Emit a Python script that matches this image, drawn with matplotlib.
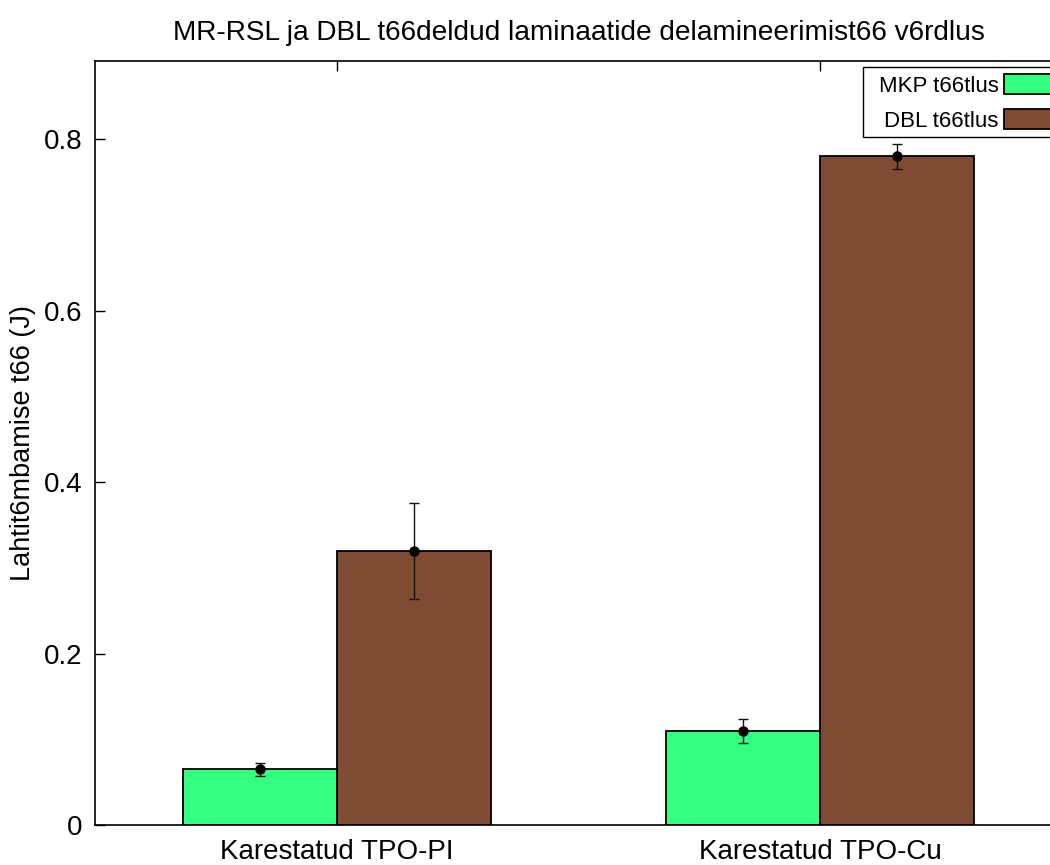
import matplotlib
matplotlib.use("Agg")
import matplotlib.pyplot as plt
from matplotlib.patches import Rectangle
import numpy as np

plt.rcParams['font.family'] = ['Liberation Sans', 'DejaVu Sans']

categories = ["Karestatud TPO-PI", "Karestatud TPO-Cu"]
series_names = ["MKP t66tlus", "DBL t66tlus"]
mkp_values = [0.065, 0.110]
mkp_errors = [0.0075, 0.014]
dbl_values = [0.320, 0.780]
dbl_errors = [0.056, 0.0145]
colors = ["#33FF80", "#7F4C33"]

W, H = 1050, 865
fig = plt.figure(figsize=(W/100, H/100), dpi=100)
ax = fig.add_axes([95/W, 40/H, 967/W, 764/H])

x = np.arange(1, len(categories) + 1)
w = 0.318
for vals, errs, off, col, name in [(mkp_values, mkp_errors, -w/2, colors[0], series_names[0]),
                                    (dbl_values, dbl_errors, w/2, colors[1], series_names[1])]:
    ax.bar(x + off, vals, width=w, color=col, edgecolor='black', linewidth=1.3, label=name, zorder=2)
    ax.errorbar(x + off, vals, yerr=errs, fmt='o', color='black', ecolor='#111111',
                markersize=6.5, capsize=3.8, elinewidth=1.0, capthick=1.0, zorder=3)

ax.set_xlim(0.5, 2.5)
ax.set_ylim(0, 0.891)
ax.set_xticks(x)
ax.set_xticklabels(categories)
ax.set_yticks([0, 0.2, 0.4, 0.6, 0.8])
ax.set_yticklabels(["0", "0.2", "0.4", "0.6", "0.8"])
ax.tick_params(direction='in', length=7, width=1, top=True, right=True, labelsize=20)
ax.tick_params(axis='x', pad=10)
ax.tick_params(axis='y', pad=9)
for s in ax.spines.values():
    s.set_linewidth(1.2)

ax.set_ylabel("Lahtit6mbamise t66 (J)", fontsize=19.5, labelpad=6)
ax.set_title("MR-RSL ja DBL t66deldud laminaatide delamineerimist66 v6rdlus", fontsize=20.2, pad=15)

leg = ax.legend(loc='upper right', bbox_to_anchor=(1071/W, (H-74)/H),
                bbox_transform=fig.transFigure, markerfirst=False, fontsize=16,
                frameon=False, handlelength=3.0, handleheight=1.0, labelspacing=0.58,
                borderpad=0, handletextpad=0.25, borderaxespad=0)
leg.set_zorder(6)
frame = Rectangle((863/W, (H-137)/H), 200/W, 70/H, transform=fig.transFigure,
                  facecolor='white', edgecolor='black', linewidth=1.0, zorder=5, clip_on=False)
ax.add_artist(frame)

fig.savefig("out.png", dpi=100)
